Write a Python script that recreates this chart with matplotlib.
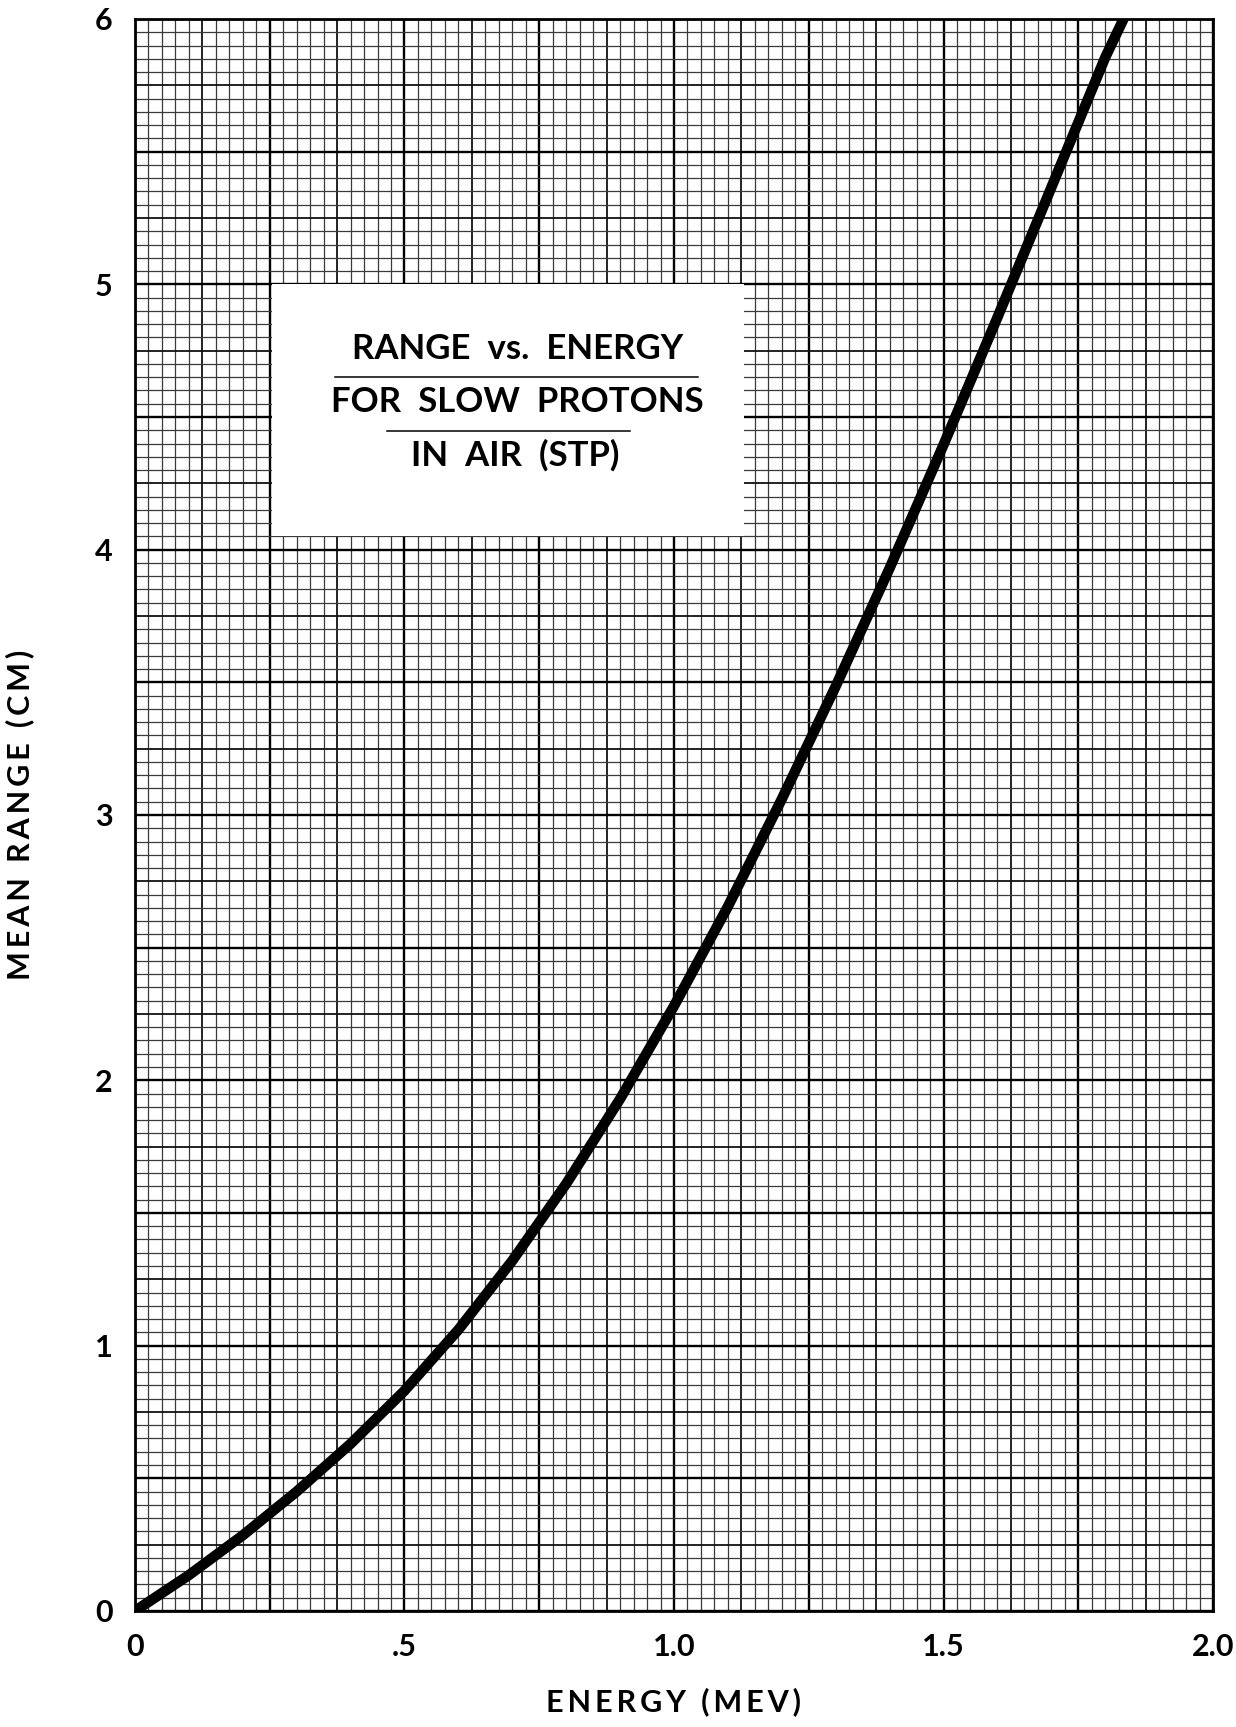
import numpy as np
import matplotlib.pyplot as plt
from matplotlib.patches import Rectangle

# values
energy_mev = [0, 0.1, 0.2, 0.3, 0.4, 0.5, 0.6, 0.7, 0.8, 0.9, 1.0,
              1.1, 1.2, 1.3, 1.4, 1.5, 1.6, 1.7, 1.8, 1.834]
range_cm = [0, 0.135, 0.285, 0.45, 0.63, 0.83, 1.06, 1.32, 1.61, 1.93, 2.28,
            2.655, 3.06, 3.485, 3.93, 4.395, 4.875, 5.365, 5.855, 6.0]

x_ticks = [0, 0.5, 1.0, 1.5, 2.0]
x_ticklabels = ["0", ".5", "1.0", "1.5", "2.0"]
y_ticks = [0, 1, 2, 3, 4, 5, 6]
y_ticklabels = ["0", "1", "2", "3", "4", "5", "6"]

title_lines = ["RANGE  vs.  ENERGY", "FOR  SLOW  PROTONS", "IN  AIR  (STP)"]
x_label = "ENERGY (MEV)"
y_label = "MEAN RANGE (CM)"

font = ["Lato", "DejaVu Sans"]


def spaced(s):
    # widen letter spacing with thin spaces
    return "\u2009".join(s)


fig = plt.figure(figsize=(12.36, 17.27), dpi=100)
ax = fig.add_axes([0.1092, 0.0672, 0.8722, 0.9218])
ax.set_xlim(0, 2.0)
ax.set_ylim(0, 6)

# graph paper: fine / every 5th / every 10th line
xs = np.arange(0, 2.0001, 0.025)
ys = np.arange(0, 6.0001, 0.05)
for i, x in enumerate(xs):
    if i % 10 == 0:
        lw, c = 1.7, "black"
    elif i % 5 == 0:
        lw, c = 1.3, "#111111"
    else:
        lw, c = 0.9, "#3a3a3a"
    ax.axvline(x, color=c, lw=lw, zorder=1)
for i, y in enumerate(ys):
    if i % 10 == 0:
        lw, c = 1.7, "black"
    elif i % 5 == 0:
        lw, c = 1.3, "#111111"
    else:
        lw, c = 0.9, "#3a3a3a"
    ax.axhline(y, color=c, lw=lw, zorder=1)

# white title box
ax.add_patch(Rectangle((0.255, 4.05), 0.875, 0.95, facecolor="white",
                       edgecolor="none", zorder=2))
ax.text(0.71, 4.755, title_lines[0], ha="center", va="center",
        fontsize=25, family=font, fontweight="bold", zorder=3)
ax.plot([0.371, 1.045], [4.652, 4.652], color="black", lw=1.1, zorder=3)
ax.text(0.71, 4.555, title_lines[1], ha="center", va="center",
        fontsize=25, family=font, fontweight="bold", zorder=3)
ax.plot([0.467, 0.918], [4.449, 4.449], color="black", lw=1.1, zorder=3)
ax.text(0.705, 4.357, title_lines[2], ha="center", va="center",
        fontsize=25, family=font, fontweight="bold", zorder=3)

# the curve
ax.plot(energy_mev, range_cm, color="black", lw=7.5,
        solid_capstyle="butt", solid_joinstyle="round", zorder=4)

for s in ax.spines.values():
    s.set_linewidth(2)
    s.set_zorder(5)

ax.set_xticks(x_ticks)
ax.set_xticklabels(x_ticklabels)
ax.set_yticks(y_ticks)
ax.set_yticklabels(y_ticklabels)
ax.tick_params(length=0, labelsize=22, pad=16)
for lab in ax.get_xticklabels() + ax.get_yticklabels():
    lab.set_family(font)
    lab.set_fontweight("bold")

ax.set_xlabel(spaced(x_label), fontsize=22, family=font,
              fontweight="bold", labelpad=19)
ax.set_ylabel(spaced(y_label), fontsize=22, family=font,
              fontweight="bold", labelpad=44)

fig.savefig("out.png", dpi=100)
